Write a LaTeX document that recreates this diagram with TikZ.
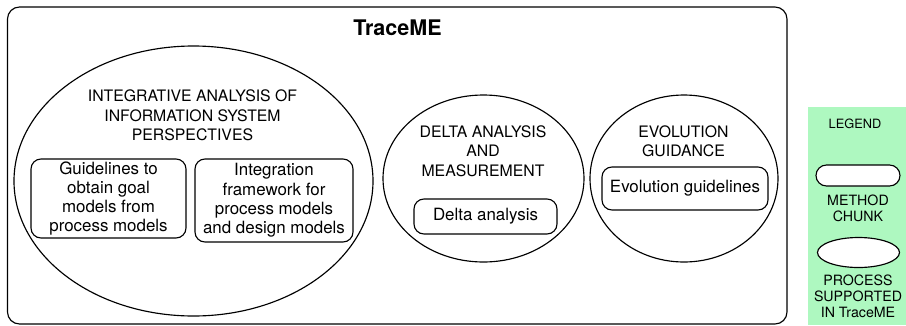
\documentclass[tikz,border=0pt]{standalone}
\usepackage{fontspec}
\setmainfont{TeX Gyre Heros}
\usetikzlibrary{shapes.geometric}

\definecolor{legendgreen}{RGB}{174,248,192}

\tikzset{
  outline/.style={draw=black, line width=1.15pt},
  region/.style={outline, ellipse, inner sep=0pt},
  chunk/.style={outline, rounded corners=10pt, inner sep=0pt, align=center,
    font=\fontsize{16.9}{19.3}\selectfont},
  heading/.style={inner sep=0pt, align=center,
    font=\fontsize{15.8}{19.4}\selectfont},
  legendtext/.style={inner sep=0pt, align=center,
    font=\fontsize{14.2}{16}\selectfont},
}

\begin{document}
\begin{tikzpicture}[x=1pt, y=-1pt]
  \useasboundingbox (0,0) rectangle (906,325);

  % tool frame
  \node[outline, rounded corners=12pt, inner sep=0pt,
        minimum width=779.5pt, minimum height=317pt] (frame) at (397.25,165.5) {};
  \node[inner sep=0pt, font=\fontsize{21.5}{25}\selectfont\bfseries] (title) at (397.5,28) {TraceME};

  % integrative analysis
  \node[region, minimum width=359pt, minimum height=270pt] (integ) at (193.5,181) {};
  \node[heading] (integtitle) at (192.5,115.5)
    {INTEGRATIVE ANALYSIS OF\\INFORMATION SYSTEM\\PERSPECTIVES};
  \node[chunk, minimum width=155pt, minimum height=79pt] (goal) at (108.5,198.5)
    {Guidelines to\\obtain goal\\models from\\process models};
  \node[chunk, minimum width=158pt, minimum height=83pt] (integfw) at (274,200.5)
    {Integration\\framework for\\process models\\and design models};

  % delta analysis
  \node[region, minimum width=201pt, minimum height=167pt] (delta) at (483.5,178.5) {};
  \node[heading] (deltatitle) at (483,151)
    {DELTA ANALYSIS\\AND\\MEASUREMENT};
  \node[chunk, minimum width=143pt, minimum height=35pt] (deltabox) at (485.5,216.5)
    {Delta analysis};

  % evolution guidance
  \node[region, minimum width=188pt, minimum height=167pt] (evol) at (684,178.5) {};
  \node[heading] (evoltitle) at (683.5,141)
    {EVOLUTION\\GUIDANCE};
  \node[chunk, minimum width=166pt, minimum height=43pt] (evolbox) at (685,188.5)
    {Evolution guidelines};

  % legend
  \node[fill=legendgreen, inner sep=0pt, minimum width=98pt, minimum height=218pt] (legend) at (857,216) {};
  \node[legendtext, font=\fontsize{12.8}{14}\selectfont] (legendtitle) at (855,124) {LEGEND};
  \node[outline, fill=white, rounded corners=10.5pt, inner sep=0pt,
        minimum width=84pt, minimum height=21pt] (legchunk) at (858,175.5) {};
  \node[legendtext] (legchunktext) at (858,208.5) {METHOD\\CHUNK};
  \node[region, fill=white, minimum width=82pt, minimum height=30pt] (legproc) at (858.5,252.5) {};
  \node[legendtext] (legproctext) at (858,296.5) {PROCESS\\SUPPORTED\\IN TraceME};
\end{tikzpicture}
\end{document}
